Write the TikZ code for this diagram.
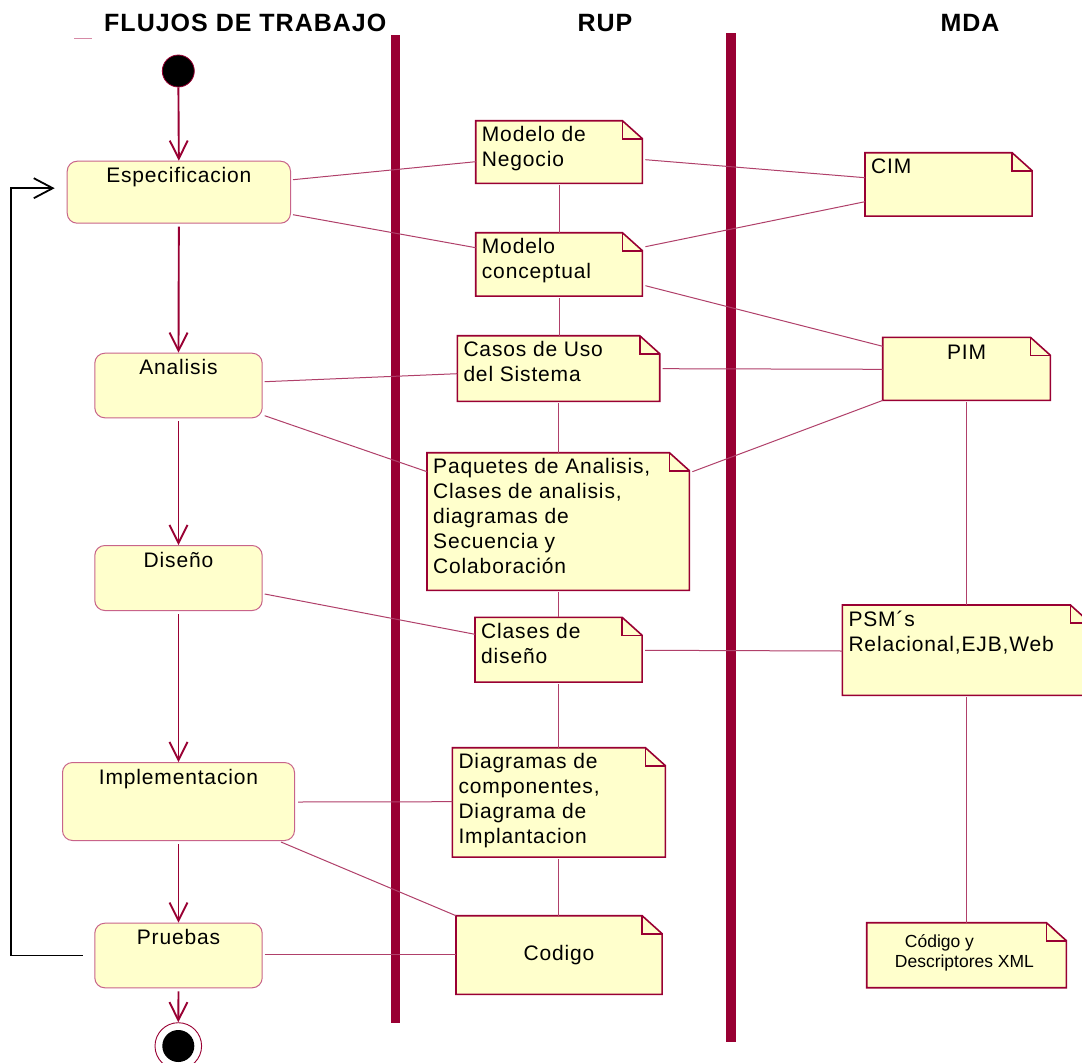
\documentclass[tikz,border=0pt]{standalone}
\usepackage{fontspec}
\setmainfont{Liberation Sans}
\newfontfamily\umlfont{Liberation Sans}[LetterSpace=4]
\usetikzlibrary{arrows.meta,backgrounds}

\definecolor{rosered}{HTML}{990033}
\definecolor{notefill}{HTML}{FFFFCC}
\definecolor{linkcol}{HTML}{B0406A}
\definecolor{actline}{HTML}{C8648A}
\definecolor{dashcol}{HTML}{D68AA6}

% activity text: fixed-size box, text centred at the top
\newcommand\acttext[3]{\parbox[c][#2][t]{#1}{\centering\rule{0pt}{21.5pt}#3}}
% note text: fixed-size box, text flush left at the top
\newcommand\notetext[3]{\parbox[c][#2][t]{#1}{\raggedright\rule{0pt}{21pt}#3}}
% outline of a UML note with its folded corner
\newcommand\dogear[1]{%
  \draw[noteline,fill=notefill] (#1.north west) -- ([xshift=-20pt]#1.north east)
    -- ([yshift=-18pt]#1.north east) -- (#1.south east) -- (#1.south west) -- cycle;
  \draw[noteline] ([xshift=-20pt]#1.north east) |- ([yshift=-18pt]#1.north east);}

\begin{document}
\begin{tikzpicture}[x=1pt,y=-1pt,
  act/.style={draw=actline,fill=notefill,rounded corners=10pt,line width=1pt,
    inner sep=0pt,anchor=north west,font=\umlfont\fontsize{21}{25}\selectfont},
  notebox/.style={inner xsep=6pt,inner ysep=0pt,anchor=north west,
    font=\umlfont\fontsize{21}{25}\selectfont},
  noteline/.style={draw=rosered,line width=1.6pt,line join=miter},
  flow/.style={draw=rosered,line width=1.9pt,-{Straight Barb[length=18pt,width=18pt]}},
  loopline/.style={draw=black,line width=1.8pt,-{Straight Barb[length=19pt,width=20pt]}},
  link/.style={draw=linkcol,line width=1pt},
  head/.style={inner sep=0pt,font=\umlfont\bfseries\fontsize{25}{28}\selectfont},
  lane/.style={fill=rosered}]
\useasboundingbox (0,0) rectangle (1082,1063);

% column headings
\node[head,anchor=base west] (hflujos) at (104,31) {FLUJOS DE TRABAJO};
\node[head,anchor=base] (hrup) at (605,31) {RUP};
\node[head,anchor=base] (hmda) at (970,31) {MDA};
\draw[dashcol,line width=1.2pt] (74,38.3) -- (91.7,38.3);

% swimlane separators
\fill[lane] (391,35) rectangle (400,1022.7);
\fill[lane] (726,33) rectangle (735.7,1041.7);

% initial and final states
\node[circle,fill=black,draw=rosered,line width=0.8pt,minimum size=32pt,inner sep=0pt]
  (start) at (178.3,71) {};
\node[circle,draw=rosered,fill=white,line width=0.9pt,minimum size=46.6pt,inner sep=0pt,
  path picture={\fill[black] (path picture bounding box.center) circle (16pt);}]
  (end) at (178.3,1046) {};

% activities
\node[act] (esp) at (66.7,160.7) {\acttext{223.3pt}{62pt}{Especificacion}};
\node[act] (ana) at (94.3,352.7) {\acttext{167.4pt}{64.6pt}{Analisis}};
\node[act] (dis) at (94.3,545)   {\acttext{167.4pt}{65pt}{Diseño}};
\node[act] (imp) at (62,762)     {\acttext{232pt}{78pt}{Implementacion}};
\node[act] (pru) at (94.3,922.7) {\acttext{167.4pt}{64.6pt}{Pruebas}};

% RUP artefacts
\node[notebox] (neg) at (475.7,120.7) {\notetext{154.3pt}{62.3pt}{Modelo de\\Negocio}};
\node[notebox] (con) at (475.7,232.7) {\notetext{154.3pt}{63pt}{Modelo\\conceptual}};
\node[notebox] (cas) at (457.3,335.7) {\notetext{190pt}{65.3pt}{Casos de Uso\\del Sistema}};
\node[notebox] (paq) at (427,452.7)   {\notetext{250pt}{137.3pt}{Paquetes de Analisis,\\Clases de analisis,\\diagramas de\\Secuencia y\\Colaboración}};
\node[notebox] (cla) at (475,617.3)   {\notetext{154.7pt}{64.4pt}{Clases de\\diseño}};
\node[notebox] (dia) at (452.3,747.7) {\notetext{200.7pt}{109pt}{Diagramas de\\componentes,\\Diagrama de\\Implantacion}};
\node[notebox] (cod) at (456,915.7)   {\parbox[c][78.3pt][c]{193.7pt}{\centering Codigo}};

% MDA models
\node[notebox] (cim) at (865,152.7)   {\notetext{154.7pt}{63pt}{CIM}};
\node[notebox] (pim) at (882.7,337.3) {\parbox[c][62.7pt][t]{155.3pt}{\centering\rule{0pt}{21.5pt}PIM\hspace{14pt}}};
\node[notebox] (psm) at (842.3,605)   {\notetext{235.7pt}{90pt}{PSM´s\\Relacional,EJB,Web}};
\node[notebox,font=\fontsize{17.5}{20}\selectfont] (xml) at (866.7,922.7)
  {\parbox[c][64.6pt][t]{187.3pt}{\raggedright\leftskip=22pt\rule{0pt}{24.3pt}\hspace{10pt}Código y\\Descriptores XML}};

\begin{pgfonlayer}{background}
  \fill[white] (0,0) rectangle (1082,1063);
  \foreach \n in {neg,con,cas,paq,cla,dia,cod,cim,pim,psm,xml} {\dogear{\n}}
\end{pgfonlayer}

% control flow
\draw[flow] (start) -- (esp.north);
\draw[flow] ([yshift=-3pt]esp.south) -- (ana.north);
\draw[flow] ([yshift=-3pt]ana.south) -- (dis.north);
\draw[flow] ([yshift=-3pt]dis.south) -- (imp.north);
\draw[flow] ([yshift=-3pt]imp.south) -- (pru.north);
\draw[flow] ([yshift=-3pt]pru.south) -- (end.north);
\draw[loopline] ([xshift=-11.6pt]pru.west) -- ++(-71.7,0) |- ([shift={(-12,-4)}]esp.west);

% activity -> artefact links
\draw[link] ([shift={(2,19)}]esp.north east) -- ([shift={(0,41)}]neg.north west);
\draw[link] ([shift={(2,54)}]esp.north east) -- ([shift={(0,15)}]con.north west);
\draw[link] ([shift={(2,29)}]ana.north east) -- ([shift={(0,38)}]cas.north west);
\draw[link] ([shift={(2,63)}]ana.north east) -- ([shift={(0,19)}]paq.north west);
\draw[link] ([shift={(2,49)}]dis.north east) -- ([shift={(0,17)}]cla.north west);
\draw[link] ([shift={(3,40)}]imp.north east) -- ([shift={(0,54)}]dia.north west);
\draw[link] ([shift={(-14,1)}]imp.south east) -- (cod.north west);
\draw[link] ([shift={(2,32)}]pru.north east) -- ([shift={(0,39)}]cod.north west);

% artefact -> model links
\draw[link] ([shift={(3,39)}]neg.north east) -- ([shift={(0,25)}]cim.north west);
\draw[link] ([shift={(3,14)}]con.north east) -- ([shift={(0,49)}]cim.north west);
\draw[link] ([shift={(3,53)}]con.north east) -- ([shift={(0,9)}]pim.north west);
\draw[link] ([shift={(3,33)}]cas.north east) -- ([shift={(0,32)}]pim.north west);
\draw[link] ([shift={(3,19)}]paq.north east) -- (pim.south west);
\draw[link] ([shift={(3,33)}]cla.north east) -- ([shift={(0,46)}]psm.north west);

% chains inside the RUP and MDA lanes
\foreach \a/\b in {neg/con,con/cas,cas/paq,paq/cla,cla/dia,dia/cod,pim/psm,psm/xml}
  \draw[link] ([yshift=-2pt]\a.south) -- (\a.south |- \b.north);
\end{tikzpicture}
\end{document}
